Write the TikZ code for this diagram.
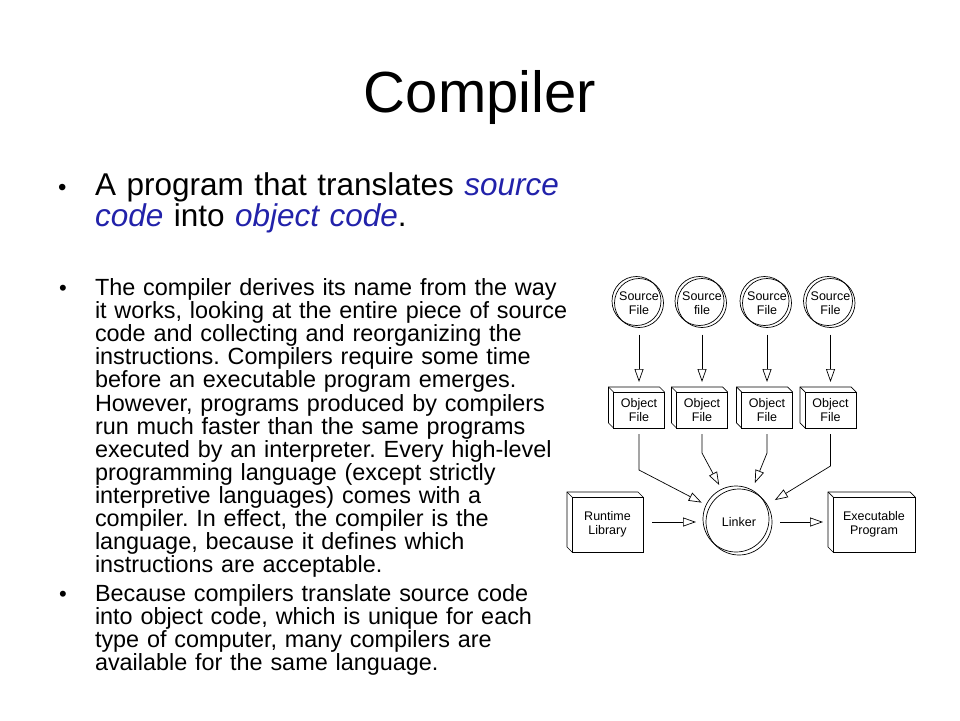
\documentclass[tikz,border=0pt]{standalone}
\usepackage{fontspec}
\setmainfont{Liberation Sans}
\usetikzlibrary{arrows.meta,calc}
\definecolor{kwblue}{RGB}{34,34,170}
\frenchspacing
\begin{document}
\begin{tikzpicture}[x=1pt,y=-1pt,
  every node/.style={inner sep=0pt, outer sep=0pt},
  dia/.style={line width=0.7pt, draw=black},
  small/.style={font=\fontsize{12.5}{14}\selectfont, align=center},
  srcc/.style={circle, dia, minimum size=49pt, small},
  linker/.style={circle, dia, minimum size=66pt, small},
  objbox/.style={rectangle, dia, minimum width=51pt, minimum height=36pt, small},
  bigbox/.style={rectangle, dia, minimum height=55pt, small},
  flow/.style={line width=0.7pt, -{Triangle[open, length=13pt, width=9pt, fill=white]}},
  body/.style={anchor=base west, text width=520pt, align=left},
  bul/.style={anchor=base west}
]
\path[fill=white, use as bounding box] (0,0) rectangle (960,720);

% title
\node[anchor=base, font=\fontsize{58}{60}\selectfont] (title) at (480,112) {Compiler};

% bullet 1
\node[bul, font=\fontsize{24}{24}\selectfont] (b1dot) at (58,195.5) {•};
\node[body, font=\fontsize{31.5}{31}\selectfont] (b1txt) at (95,195.5)
 {A program that translates \textcolor{kwblue}{\textit{source}}\\
  \textcolor{kwblue}{\textit{code}} into \textcolor{kwblue}{\textit{object code}}.};

% bullet 2
\node[bul, font=\fontsize{22}{22}\selectfont] (b2dot) at (59,295.5) {•};
\node[body, font=\fontsize{23.4}{23.1}\selectfont] (b2txt) at (95,295.5)
 {The compiler derives its name from the way\\
  it works, looking at the entire piece of source\\
  code and collecting and reorganizing the\\
  instructions. Compilers require some time\\
  before an executable program emerges.\\
  However, programs produced by compilers\\
  run much faster than the same programs\\
  executed by an interpreter. Every high-level\\
  programming language (except strictly\\
  interpretive languages) comes with a\\
  compiler. In effect, the compiler is the\\
  language, because it defines which\\
  instructions are acceptable.};

% bullet 3
\node[bul, font=\fontsize{22}{22}\selectfont] (b3dot) at (59,601.5) {•};
\node[body, font=\fontsize{23.4}{23.1}\selectfont] (b3txt) at (95,601.5)
 {Because compilers translate source code\\
  into object code, which is unique for each\\
  type of computer, many compilers are\\
  available for the same language.};

% diagram: source files
\node[srcc] (s1) at (639,303) {Source\\File};
\node[srcc] (s2) at (702,303) {Source\\file};
\node[srcc] (s3) at (767,303) {Source\\File};
\node[srcc] (s4) at (830.5,303) {Source\\File};

% object files
\node[objbox] (o1) at (639,410) {Object\\File};
\node[objbox] (o2) at (702,410) {Object\\File};
\node[objbox] (o3) at (767,410) {Object\\File};
\node[objbox] (o4) at (830.5,410) {Object\\File};

% linker, runtime, executable
\node[linker] (lk) at (739,522) {Linker};
\node[bigbox, minimum width=71pt] (rt) at (607.5,524.5) {Runtime\\Library};
\node[bigbox, minimum width=82pt] (ex) at (874,524.5) {Executable\\Program};

% shadow circles
\foreach \n in {s1,s2,s3,s4}
  \draw[dia] ([shift={(-2.5,-2)}]\n.center) circle[radius=24.5];
\draw[dia] ([shift={(-3,-3)}]lk.center) circle[radius=33];

% 3D boxes
\foreach \n in {o1,o2,o3,o4,rt,ex}{
  \draw[dia] (\n.south west) -- ++(-5,-5) -- ($(\n.north west)+(-5,-5)$)
     -- ($(\n.north east)+(-5,-5)$) -- (\n.north east);
  \draw[dia] (\n.north west) -- ++(-5,-5);
}

% bends
\coordinate (k1) at (639,470);
\coordinate (k2) at (702,453);
\coordinate (k3) at (767,453);
\coordinate (k4) at (830.5,466);

% connectors
\foreach \i in {1,2,3,4}{
  \draw[flow, shorten <=7pt, shorten >=10pt] (s\i.south) -- (s\i.south |- o\i.north);
  \draw[flow, shorten <=6pt, shorten >=9pt] (o\i.south) -- (k\i) -- (lk);
}
\draw[flow, shorten <=9pt, shorten >=10pt] (rt.east |- lk.center) -- (lk.west);
\draw[flow, shorten <=8pt, shorten >=10pt] (lk.east) -- (lk.east -| ex.west);
\end{tikzpicture}
\end{document}
